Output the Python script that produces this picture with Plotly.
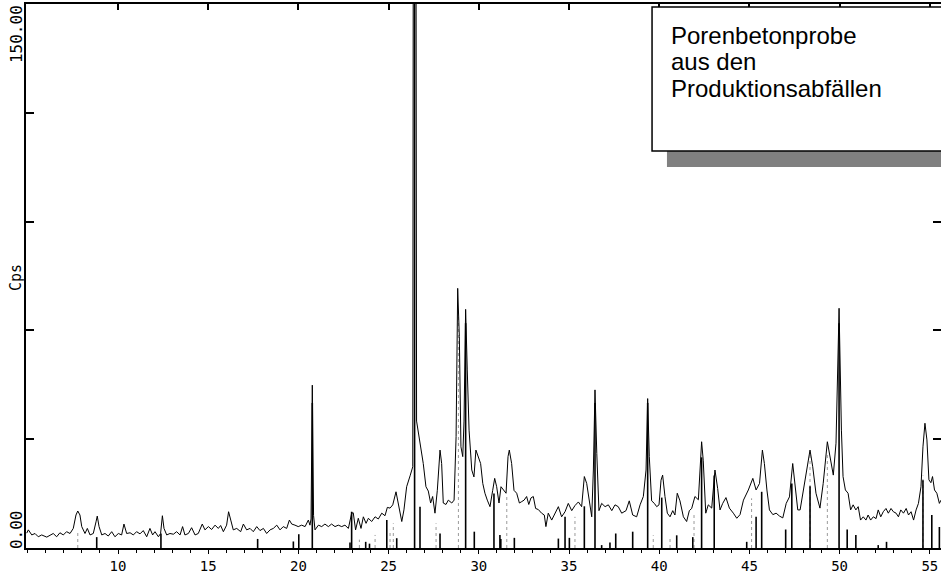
import plotly.graph_objects as go

# ---- XRD pattern (2-theta in degrees, intensity in cps) ----
two_theta = [
    4.94, 5.03, 5.22, 5.40, 5.58, 5.77, 6.05, 6.23, 6.41, 6.60, 6.78, 6.97, 7.15, 7.34, 7.52, 7.67, 7.77, 7.89, 7.99,
    8.17, 8.30, 8.45, 8.63, 8.78, 8.85, 8.95, 9.10, 9.28, 9.46, 9.65, 9.83, 10.02, 10.20, 10.33, 10.48, 10.67, 10.85,
    11.03, 11.22, 11.40, 11.59, 11.77, 11.92, 12.05, 12.24, 12.36, 12.46, 12.55, 12.70, 12.88, 13.07, 13.25, 13.44,
    13.58, 13.71, 13.90, 14.08, 14.27, 14.45, 14.67, 14.82, 15.01, 15.19, 15.38, 15.56, 15.69, 15.84, 16.02, 16.13,
    16.25, 16.39, 16.58, 16.80, 16.95, 17.13, 17.32, 17.50, 17.69, 17.87, 18.06, 18.24, 18.43, 18.61, 18.80, 18.98,
    19.16, 19.35, 19.50, 19.63, 19.81, 19.99, 20.18, 20.37, 20.55, 20.64, 20.70, 20.77, 20.84, 20.92, 21.11, 21.29,
    21.47, 21.66, 21.84, 22.03, 22.21, 22.40, 22.58, 22.77, 22.95, 23.04, 23.17, 23.32, 23.47, 23.60, 23.75, 23.88,
    24.06, 24.25, 24.43, 24.62, 24.80, 24.93, 25.08, 25.23, 25.41, 25.54, 25.73, 25.85, 26.00, 26.19, 26.34, 26.39,
    26.49, 26.55, 26.74, 26.92, 27.07, 27.20, 27.33, 27.44, 27.57, 27.70, 27.85, 27.94, 28.03, 28.18, 28.31,
    28.50, 28.63, 28.74, 28.83, 28.92, 29.01, 29.11, 29.18, 29.27, 29.36, 29.46, 29.61, 29.73, 29.84, 29.97, 30.10,
    30.22, 30.34, 30.47, 30.62, 30.77, 30.88, 30.99, 31.12, 31.23, 31.36, 31.51, 31.62, 31.69, 31.82, 31.95, 32.10,
    32.25, 32.38, 32.51, 32.65, 32.77, 32.89, 33.02, 33.15, 33.30, 33.48, 33.63, 33.72, 33.85, 34.04, 34.22, 34.41,
    34.59, 34.78, 34.96, 35.15, 35.33, 35.52, 35.70, 35.85, 35.98, 36.13, 36.26, 36.35, 36.44, 36.54, 36.66, 36.81,
    37.00, 37.18, 37.37, 37.55, 37.73, 37.92, 38.16, 38.34, 38.53, 38.75, 38.94, 39.12, 39.27, 39.36, 39.45, 39.58,
    39.73, 39.86, 39.99, 40.10, 40.19, 40.32, 40.45, 40.60, 40.75, 40.87, 41.00, 41.15, 41.34, 41.52, 41.67, 41.80,
    41.98, 42.17, 42.35, 42.44, 42.58, 42.72, 42.91, 43.09, 43.24, 43.37, 43.52, 43.70, 43.89, 44.11, 44.30, 44.48,
    44.67, 44.94, 45.19, 45.37, 45.56, 45.72, 45.83, 45.97, 46.11, 46.30, 46.48, 46.67, 46.85, 47.04, 47.22, 47.40,
    47.53, 47.68, 47.81, 47.99, 48.22, 48.36, 48.51, 48.69, 48.91, 49.09, 49.32, 49.47, 49.65, 49.80, 49.97, 50.10,
    50.19, 50.32, 50.47, 50.61, 50.75, 50.90, 51.03, 51.16, 51.31, 51.46, 51.58, 51.72, 51.87, 52.02, 52.14, 52.28,
    52.42, 52.57, 52.70, 52.85, 52.98, 53.13, 53.26, 53.39, 53.54, 53.69, 53.82, 53.96, 54.10, 54.24, 54.37, 54.51,
    54.62, 54.73, 54.84, 54.95, 55.06, 55.15, 55.26, 55.39, 55.53, 55.62,
]
cps = [
    4.1, 5.0, 3.6, 4.0, 3.1, 3.6, 3.0, 3.6, 4.0, 3.1, 4.2, 3.6, 4.5, 4.0, 5.4, 9.1, 10.2, 9.1, 5.9,
    4.0, 5.4, 3.6, 4.0, 7.2, 8.8, 5.9, 3.6, 4.0, 3.3, 4.5, 3.1, 4.0, 3.6, 6.6, 4.0, 4.2, 3.6,
    4.5, 3.9, 4.8, 3.1, 5.4, 3.6, 4.5, 3.1, 4.0, 8.9, 5.4, 3.6, 4.0, 3.8, 4.5, 3.6,
    5.9, 3.6, 4.0, 5.6, 3.6, 4.0, 6.6, 5.0, 5.9, 5.1, 6.3, 5.4, 6.2, 4.5, 6.3, 10.0,
    7.7, 5.0, 5.4, 4.5, 6.6, 5.0, 5.4, 4.5, 5.9, 4.8, 5.4, 4.0, 5.0, 5.4, 6.3, 5.0,
    5.9, 5.4, 7.7, 6.6, 6.3, 5.9, 6.3, 5.9, 7.7, 6.3, 8.0, 44.9, 9.0, 5.0, 6.3, 5.9,
    6.6, 5.9, 6.6, 5.9, 6.3, 5.9, 6.3, 5.4, 9.6, 9.7, 5.0, 8.2, 5.4, 8.6, 6.8, 8.2,
    7.3, 8.6, 8.0, 9.6, 8.9, 11.2, 11.0, 11.9, 15.5, 11.9, 7.3, 10.5, 16.9, 19.9, 22.4, 300.0,
    300.0, 35.0, 28.9, 23.3, 16.9, 15.7, 12.4, 14.2, 9.6, 15.9, 27.0, 23.3, 12.4, 12.0, 13.2,
    12.4, 13.2, 30.7, 71.6, 58.3, 27.9, 25.2, 35.0, 65.8, 49.1, 32.5, 21.5, 19.6, 27.0, 25.2, 23.3,
    17.8, 15.1, 13.2, 11.4, 15.9, 19.2, 16.9, 12.4, 16.9, 15.9, 15.1, 25.2, 27.0, 23.3, 15.9, 15.1,
    12.4, 12.8, 13.2, 14.2, 12.0, 13.8, 14.2, 10.9, 10.6, 9.6, 9.1, 5.9, 9.6, 7.7, 9.6, 11.4,
    8.6, 10.0, 12.3, 10.3, 11.7, 12.7, 11.4, 19.7, 17.8, 13.0, 8.6, 21.5, 43.6, 26.1, 10.3, 12.3,
    11.4, 11.9, 10.3, 11.9, 11.4, 9.6, 10.3, 13.0, 9.1, 8.6, 11.9, 14.2, 21.5, 41.2, 25.2, 13.0,
    12.3, 11.4, 11.9, 18.7, 20.1, 14.2, 9.6, 8.6, 10.3, 9.1, 15.1, 13.0, 8.6, 7.3, 10.3, 10.9,
    14.2, 13.3, 29.3, 24.2, 9.6, 11.9, 11.0, 21.5, 16.4, 10.5, 12.3, 13.9, 11.0, 9.6, 8.2, 9.2,
    13.2, 16.0, 19.2, 16.0, 17.8, 27.0, 23.3, 16.0, 10.5, 9.2, 9.6, 8.8, 8.3, 12.3, 14.1, 23.3,
    17.8, 10.5, 10.5, 16.0, 22.4, 27.0, 22.4, 15.1, 11.0, 17.8, 29.3, 24.8, 20.1, 28.9, 66.1, 32.5,
    19.7, 16.0, 15.1, 10.5, 11.9, 10.5, 11.4, 7.7, 8.6, 7.7, 9.1, 7.7, 8.6, 8.1, 10.5, 8.6,
    10.0, 10.9, 9.6, 10.9, 10.0, 9.6, 8.6, 10.5, 9.6, 10.9, 9.1, 10.0, 7.7, 10.5, 12.3, 16.9,
    27.9, 34.4, 29.8, 18.8, 18.0, 19.7, 16.0, 15.1, 12.3, 13.2,
]

# ---- reference stick pattern (solid black) ----
ref_pos = [8.82, 12.38, 17.74, 19.72, 20.02, 20.77, 22.86, 22.95, 23.73, 23.94, 24.90, 25.45, 26.44, 26.74,
           27.85, 29.27, 29.75, 30.84, 31.17, 31.22, 31.97, 34.41, 34.78, 35.02, 35.85, 36.44, 36.81, 37.27,
           37.59, 38.53, 39.36, 40.14, 40.97, 41.86, 42.35, 43.05, 44.85, 45.37, 45.68, 47.01, 47.35, 48.36,
           49.97, 50.42, 50.90, 52.14, 52.60, 54.62, 55.11, 55.53]
ref_int = [3.0, 4.0, 2.5, 1.8, 3.8, 40.0, 1.5, 10.0, 1.7, 1.2, 7.7, 2.7, 300.0, 11.4,
           4.0, 62.0, 4.5, 15.0, 3.6, 2.5, 2.8, 2.6, 8.6, 2.8, 11.5, 40.0, 0.8, 1.5,
           4.0, 4.5, 40.0, 13.9, 3.5, 3.0, 25.0, 20.0, 1.7, 8.6, 15.5, 5.1, 17.8, 17.0,
           62.0, 5.1, 3.6, 0.8, 1.7, 18.7, 9.1, 5.8]

# ---- second reference phase (dotted grey sticks) ----
ref2_pos = [7.77, 23.38, 24.25, 25.08, 25.26, 27.63, 28.87, 31.55, 35.33, 39.67, 40.60, 41.93, 45.12,
            48.36, 49.32, 54.62]
ref2_int = [4.5, 2.3, 3.6, 5.0, 6.8, 6.8, 65.0, 14.1, 8.6, 3.5, 3.0, 9.6, 13.7, 26.0, 26.0, 20.0]

x_ticks = [10, 15, 20, 25, 30, 35, 40, 45, 50, 55]
y_ticks = [0, 30, 60, 90, 120, 150]
box_lines = ["Porenbetonprobe", "aus den", "Produktionsabfällen"]

X_RANGE = [4.90, 55.62]
Y_RANGE = [0, 150]


def sticks(pos, val):
    xs, ys = [], []
    for p, v in zip(pos, val):
        xs += [p, p, None]
        ys += [0, v, None]
    return xs, ys


fig = go.Figure()

sx2, sy2 = sticks(ref2_pos, ref2_int)
fig.add_trace(go.Scatter(x=sx2, y=sy2, mode="lines",
                         line=dict(color="#9a9a9a", width=1, dash="dot"),
                         hoverinfo="skip", showlegend=False))
sx, sy = sticks(ref_pos, ref_int)
fig.add_trace(go.Scatter(x=sx, y=sy, mode="lines",
                         line=dict(color="black", width=1.6),
                         hoverinfo="skip", showlegend=False))
fig.add_trace(go.Scatter(x=two_theta, y=cps, mode="lines",
                         line=dict(color="black", width=1),
                         showlegend=False))
# carrier for mirrored top/right axes (invisible)
fig.add_trace(go.Scatter(x=two_theta, y=cps, mode="lines", xaxis="x2", yaxis="y2",
                         opacity=0, hoverinfo="skip", showlegend=False))

mono = "DejaVu Sans Mono"

fig.update_layout(
    width=941, height=573,
    margin=dict(l=26, r=0, t=4, b=25, autoexpand=False),
    paper_bgcolor="white", plot_bgcolor="white",
    xaxis=dict(range=X_RANGE, showgrid=False, zeroline=False,
               showline=True, linecolor="black", linewidth=2,
               tickmode="array", tickvals=x_ticks, ticktext=[str(v) for v in x_ticks],
               ticks="outside", ticklen=4, tickwidth=1, tickcolor="black",
               minor=dict(ticks="outside", dtick=1, tick0=0, ticklen=3, tickcolor="black", tickwidth=1),
               tickfont=dict(family=mono, size=14, color="black")),
    yaxis=dict(range=Y_RANGE, showgrid=False, zeroline=False,
               showline=True, linecolor="black", linewidth=1.5,
               tickmode="array", tickvals=y_ticks, showticklabels=False,
               ticks="inside", ticklen=8, tickwidth=2, tickcolor="black"),
    xaxis2=dict(range=X_RANGE, overlaying="x", side="top", anchor="y2",
                showgrid=False, zeroline=False, showline=True, linecolor="black", linewidth=1.5,
                tickmode="array", tickvals=x_ticks, showticklabels=False,
                ticks="inside", ticklen=6, tickwidth=1.5, tickcolor="black"),
    yaxis2=dict(range=Y_RANGE, overlaying="y", side="right", anchor="x2",
                showgrid=False, zeroline=False, showline=False,
                tickmode="array", tickvals=y_ticks, showticklabels=False,
                ticks="inside", ticklen=8, tickwidth=2, tickcolor="black"),
)

# rotated y-axis labels
for txt, yv, sz in [("0.00", 5.2, 16), ("150.00", 141.7, 16), ("Cps", 74.7, 15)]:
    fig.add_annotation(text=txt, xref="paper", yref="y", x=-0.011, y=yv,
                       xanchor="center", yanchor="middle", textangle=-90, showarrow=False,
                       font=dict(family=mono, size=sz, color="black"))

# text box with drop shadow
fig.add_shape(type="rect", xref="paper", yref="paper", x0=0.7005, x1=1.03, y0=0.7004, y1=0.78,
              fillcolor="#808080", line=dict(width=0), layer="above")
fig.add_shape(type="rect", xref="paper", yref="paper", x0=0.6842, x1=1.03, y0=0.7298, y1=0.9945,
              fillcolor="white", line=dict(color="black", width=1.5), layer="above")
for txt, yv in zip(box_lines, [0.943, 0.8934, 0.8447]):
    fig.add_annotation(text=txt, xref="paper", yref="paper", x=0.703, y=yv,
                       xanchor="left", yanchor="middle", showarrow=False,
                       font=dict(family="Liberation Sans", size=24, color="black"))

fig.write_html("out.html", config={"displayModeBar": False},
               post_script="document.body.style.margin='0';document.body.style.overflow='hidden';")
